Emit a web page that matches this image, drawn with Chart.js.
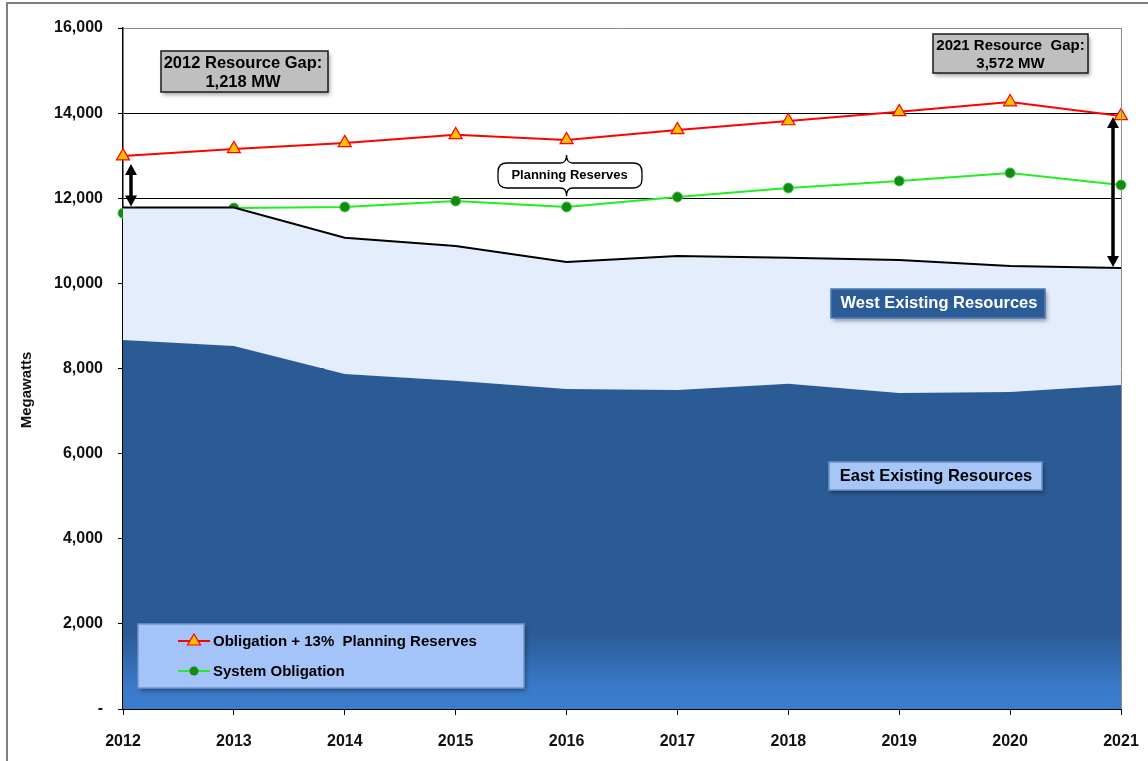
<!DOCTYPE html>
<html>
<head>
<meta charset="utf-8">
<script src="https://cdn.jsdelivr.net/npm/chart.js@4.4.1/dist/chart.umd.min.js"></script>
<style>
  html, body { margin: 0; padding: 0; background: #fff; }
  #wrap { width: 1148px; height: 761px; position: relative; }
</style>
</head>
<body>
<div id="wrap"><canvas id="myChart" width="1148" height="761"></canvas></div>
<script>
// data (MW)
const years = ['2012', '2013', '2014', '2015', '2016', '2017', '2018', '2019', '2020', '2021'];
const eastResources = [8670, 8530, 7870, 7710, 7520, 7495, 7640, 7425, 7450, 7610];
const westResources = [3110, 3250, 3200, 3170, 2985, 3150, 2960, 3125, 2960, 2750];
const systemObligation = [11650, 11770, 11795, 11935, 11795, 12030, 12240, 12405, 12595, 12310];
const obligationPlusReserves = [12990, 13160, 13300, 13490, 13370, 13605, 13815, 14030, 14260, 13935];
const yTicks = [0, 2000, 4000, 6000, 8000, 10000, 12000, 14000, 16000];

const totalResources = eastResources.map((v, i) => v + westResources[i]);
const FONT = '"Liberation Sans", Arial, sans-serif';

// East fill: flat dark blue with a lighter band near the bottom
function eastFill(context) {
  const chart = context.chart;
  const area = chart.chartArea;
  if (!area) return '#2B5B95';
  const g = chart.ctx.createLinearGradient(0, area.top, 0, area.bottom);
  g.addColorStop(0, '#2B5B95');
  g.addColorStop(0.89, '#2B5B95');
  g.addColorStop(0.97, '#3A7BCA');
  g.addColorStop(1, '#3B7DCD');
  return g;
}

function shadowBox(ctx, x, y, w, h, fill, stroke) {
  ctx.save();
  ctx.shadowColor = 'rgba(0,0,0,0.35)';
  ctx.shadowBlur = 4;
  ctx.shadowOffsetX = 2;
  ctx.shadowOffsetY = 3;
  ctx.fillStyle = fill;
  ctx.fillRect(x, y, w, h);
  ctx.restore();
  ctx.save();
  ctx.strokeStyle = stroke;
  ctx.lineWidth = 1.5;
  ctx.strokeRect(x, y, w, h);
  ctx.restore();
}

function arrow(ctx, x, y1, y2) {
  const head = 11, half = 6;
  ctx.save();
  ctx.strokeStyle = '#000';
  ctx.fillStyle = '#000';
  ctx.lineWidth = 3.5;
  ctx.beginPath();
  ctx.moveTo(x, y1 + head - 1);
  ctx.lineTo(x, y2 - head + 1);
  ctx.stroke();
  ctx.beginPath();
  ctx.moveTo(x, y1);
  ctx.lineTo(x - half, y1 + head);
  ctx.lineTo(x + half, y1 + head);
  ctx.closePath();
  ctx.fill();
  ctx.beginPath();
  ctx.moveTo(x, y2);
  ctx.lineTo(x - half, y2 - head);
  ctx.lineTo(x + half, y2 - head);
  ctx.closePath();
  ctx.fill();
  ctx.restore();
}

const framePlugin = {
  id: 'frame',
  beforeDraw(chart) {
    const ctx = chart.ctx;
    ctx.save();
    ctx.fillStyle = '#fff';
    ctx.fillRect(0, 0, chart.width, chart.height);
    ctx.strokeStyle = '#7F7F7F';
    ctx.lineWidth = 2;
    ctx.beginPath();
    ctx.moveTo(7, chart.height);
    ctx.lineTo(7, 3);
    ctx.lineTo(chart.width, 3);
    ctx.stroke();

    // y axis title
    ctx.translate(27, 390);
    ctx.rotate(-Math.PI / 2);
    ctx.fillStyle = '#111';
    ctx.font = 'bold 15px ' + FONT;
    ctx.textAlign = 'center';
    ctx.textBaseline = 'middle';
    ctx.fillText('Megawatts', 0, 0);
    ctx.restore();
  }
};

const notesPlugin = {
  id: 'notes',
  beforeDatasetDraw(chart, args) {
    // right border of plot, under the series markers
    if (args.index !== 2) return;
    const ctx = chart.ctx;
    const area = chart.chartArea;
    ctx.save();
    ctx.strokeStyle = '#8C8C8C';
    ctx.lineWidth = 1;
    ctx.beginPath();
    ctx.moveTo(area.right + 0.5, area.top);
    ctx.lineTo(area.right + 0.5, area.bottom);
    ctx.stroke();
    ctx.restore();
  },
  afterDatasetsDraw(chart) {
    const ctx = chart.ctx;
    const xs = chart.scales.x;
    const ys = chart.scales.y;

    // gap arrows
    const last = years.length - 1;
    arrow(ctx, xs.getPixelForValue(0) + 8, ys.getPixelForValue(obligationPlusReserves[0]) + 8,
      ys.getPixelForValue(totalResources[0]) - 1);
    arrow(ctx, xs.getPixelForValue(last) - 8, ys.getPixelForValue(obligationPlusReserves[last]) + 1,
      ys.getPixelForValue(totalResources[last]) - 1);

    ctx.save();
    ctx.textAlign = 'center';
    ctx.textBaseline = 'middle';

    // gap boxes
    shadowBox(ctx, 161, 51, 167, 41, '#BFBFBF', '#1a1a1a');
    ctx.fillStyle = '#000';
    ctx.font = 'bold 16.5px ' + FONT;
    ctx.fillText('2012 Resource Gap:', 243, 63);
    ctx.fillText('1,218 MW', 243, 82);

    shadowBox(ctx, 933, 34, 155, 39, '#BFBFBF', '#1a1a1a');
    ctx.fillStyle = '#000';
    ctx.font = 'bold 15px ' + FONT;
    ctx.fillText('2021 Resource  Gap:', 1010.5, 46);
    ctx.fillText('3,572 MW', 1010.5, 64);

    // area labels
    shadowBox(ctx, 831, 289, 214, 29, '#2C5C97', '#4C79B2');
    ctx.fillStyle = '#fff';
    ctx.font = 'bold 16.5px ' + FONT;
    ctx.fillText('West Existing Resources', 939, 303);

    shadowBox(ctx, 829, 462, 213, 28, '#A6C6F8', '#6E94CC');
    ctx.fillStyle = '#000';
    ctx.fillText('East Existing Resources', 936, 476);

    // planning reserves brace
    const cx = xs.getPixelForValue(4);
    const top = 163, bot = 188, l = 498, r = 642, rad = 9;
    ctx.strokeStyle = '#000';
    ctx.lineWidth = 1.3;
    ctx.beginPath();
    ctx.moveTo(l, top + rad);
    ctx.quadraticCurveTo(l, top, l + rad, top);
    ctx.lineTo(cx - 6, top);
    ctx.quadraticCurveTo(cx, top, cx, top - 8);
    ctx.quadraticCurveTo(cx, top, cx + 6, top);
    ctx.lineTo(r - rad, top);
    ctx.quadraticCurveTo(r, top, r, top + rad);
    ctx.lineTo(r, bot - rad);
    ctx.quadraticCurveTo(r, bot, r - rad, bot);
    ctx.lineTo(cx + 6, bot);
    ctx.quadraticCurveTo(cx, bot, cx, bot + 8);
    ctx.quadraticCurveTo(cx, bot, cx - 6, bot);
    ctx.lineTo(l + rad, bot);
    ctx.quadraticCurveTo(l, bot, l, bot - rad);
    ctx.closePath();
    ctx.fillStyle = '#fff';
    ctx.fill();
    ctx.stroke();
    ctx.fillStyle = '#000';
    ctx.font = 'bold 13px ' + FONT;
    ctx.fillText('Planning Reserves', cx + 3, 175.5);

    // legend box
    shadowBox(ctx, 138, 624, 386, 64, '#A4C3F8', '#7495C8');
    ctx.textAlign = 'left';
    ctx.font = 'bold 15px ' + FONT;
    ctx.fillStyle = '#000';
    ctx.fillText('Obligation + 13%  Planning Reserves', 213, 642);
    ctx.fillText('System Obligation', 213, 672);

    ctx.lineWidth = 2;
    ctx.strokeStyle = '#FF0000';
    ctx.beginPath();
    ctx.moveTo(178, 641);
    ctx.lineTo(210, 641);
    ctx.stroke();
    ctx.beginPath();
    ctx.moveTo(194, 634);
    ctx.lineTo(200.5, 645);
    ctx.lineTo(187.5, 645);
    ctx.closePath();
    ctx.fillStyle = '#FFC000';
    ctx.fill();
    ctx.lineWidth = 1.2;
    ctx.stroke();

    ctx.lineWidth = 2;
    ctx.strokeStyle = '#22EE22';
    ctx.beginPath();
    ctx.moveTo(178, 671);
    ctx.lineTo(210, 671);
    ctx.stroke();
    ctx.beginPath();
    ctx.arc(194, 671, 4.5, 0, Math.PI * 2);
    ctx.fillStyle = '#138A13';
    ctx.fill();
    ctx.restore();
  }
};

const ctx = document.getElementById('myChart').getContext('2d');
let myChart = new Chart(ctx, {
  type: 'line',
  data: {
    labels: years,
    datasets: [
      {
        label: 'East Existing Resources',
        data: eastResources,
        fill: 'origin',
        backgroundColor: eastFill,
        borderWidth: 0,
        borderColor: 'rgba(0,0,0,0)',
        pointRadius: 0,
        tension: 0
      },
      {
        label: 'West Existing Resources',
        data: totalResources,
        fill: '-1',
        backgroundColor: '#E3EDFB',
        borderColor: '#000',
        borderWidth: 2,
        pointRadius: 0,
        tension: 0
      },
      {
        label: 'System Obligation',
        data: systemObligation,
        fill: false,
        clip: false,
        borderColor: '#22EE22',
        borderWidth: 2,
        pointStyle: 'circle',
        pointRadius: 5,
        pointBackgroundColor: '#138A13',
        pointBorderColor: '#46C846',
        pointBorderWidth: 1,
        tension: 0
      },
      {
        label: 'Obligation + 13% Planning Reserves',
        data: obligationPlusReserves,
        fill: false,
        clip: false,
        borderColor: '#FF0000',
        borderWidth: 2,
        pointStyle: 'triangle',
        pointRadius: 7.5,
        pointBackgroundColor: '#FFC000',
        pointBorderColor: '#FF0000',
        pointBorderWidth: 1.2,
        tension: 0
      }
    ]
  },
  options: {
    responsive: false,
    animation: false,
    events: [],
    layout: { padding: { top: 28, right: 27, left: 12, bottom: 0 } },
    plugins: {
      legend: { display: false },
      tooltip: { enabled: false }
    },
    scales: {
      x: {
        type: 'category',
        offset: false,
        afterFit(scale) {
          scale.height = 52;
          scale.paddingLeft = 0;
          scale.paddingRight = 0;
        },
        grid: { drawOnChartArea: false, drawTicks: true, tickLength: 6, tickColor: '#000', lineWidth: 1 },
        border: { color: '#000', width: 2 },
        ticks: {
          color: '#111',
          padding: 17,
          maxRotation: 0,
          font: { family: FONT, size: 16, weight: 'bold' }
        }
      },
      y: {
        min: 0,
        max: 16000,
        afterFit(scale) {
          scale.width = 111;
          scale.paddingTop = 0;
          scale.paddingBottom = 0;
        },
        afterBuildTicks(scale) { scale.ticks = yTicks.map(v => ({ value: v })); },
        grid: {
          color: c => (c.tick && c.tick.value === 16000 ? '#8C8C8C' : '#000'),
          tickColor: '#000',
          tickLength: 5,
          lineWidth: 1
        },
        border: { color: '#000', width: 1.5 },
        ticks: {
          color: '#111',
          padding: 15,
          font: { family: FONT, size: 16, weight: 'bold' },
          callback: v => (v === 0 ? '-' : v.toLocaleString('en-US'))
        }
      }
    }
  },
  plugins: [framePlugin, notesPlugin]
});
</script>
</body>
</html>
